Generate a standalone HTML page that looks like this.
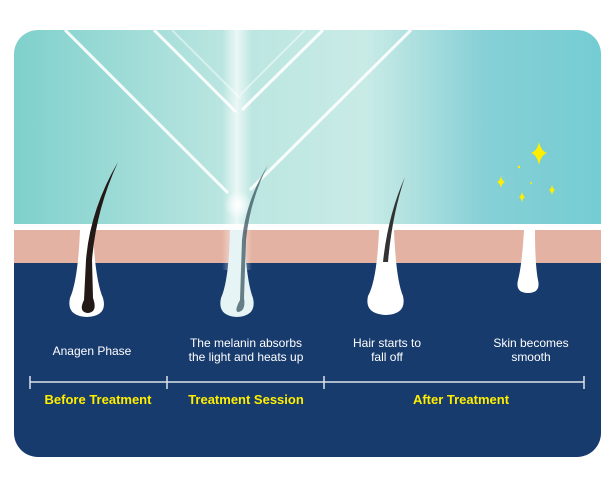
<!DOCTYPE html>
<html><head><style>
html,body{margin:0;padding:0;background:#fff;}
svg{display:block;}
</style></head><body>
<svg width="615" height="487" viewBox="0 0 615 487" xmlns="http://www.w3.org/2000/svg">
<defs>
<clipPath id="card"><rect x="14" y="30" width="587" height="427" rx="24"/></clipPath>
<linearGradient id="sky" x1="0" y1="0" x2="1" y2="0">
<stop offset="0" stop-color="#7fd0cc"/><stop offset="0.35" stop-color="#b9e5e0"/>
<stop offset="0.6" stop-color="#c9ebe6"/><stop offset="0.8" stop-color="#86d0d6"/><stop offset="1" stop-color="#74cdd3"/>
</linearGradient>
<linearGradient id="beam" x1="0" y1="0" x2="1" y2="0">
<stop offset="0" stop-color="#fff" stop-opacity="0"/><stop offset="0.5" stop-color="#fff" stop-opacity="0.7"/><stop offset="1" stop-color="#fff" stop-opacity="0"/>
</linearGradient>
<radialGradient id="glow"><stop offset="0" stop-color="#fff"/><stop offset="1" stop-color="#fff" stop-opacity="0"/></radialGradient>
</defs>
<g clip-path="url(#card)">
<rect x="14" y="30" width="587" height="200" fill="url(#sky)"/>
<rect x="14" y="224" width="587" height="6" fill="#fff"/>
<rect x="14" y="230" width="587" height="34" fill="#e4b2a2"/>
<rect x="14" y="263" width="587" height="200" fill="#183b6e"/>
<g stroke="#fff" stroke-width="3" opacity="0.9" fill="none">
<line x1="65" y1="30" x2="228" y2="193"/>
<line x1="154" y1="30" x2="236" y2="112"/>
<line x1="172" y1="30" x2="240" y2="98" stroke-width="2" opacity="0.5"/>
<line x1="411" y1="30" x2="250" y2="190"/>
<line x1="323" y1="30" x2="242" y2="110"/>
<line x1="305" y1="30" x2="240" y2="95" stroke-width="2" opacity="0.5"/>
</g>
<rect x="222" y="30" width="30" height="240" fill="url(#beam)"/>
<circle cx="238" cy="205" r="14" fill="url(#glow)"/>
<path d="M80 230 L93 230 Q95 280 103 298 Q108 316 87 317 Q66 316 70 298 Q78 280 80 230Z" fill="#fff"/>
<path d="M230 230 L244 230 Q246 280 253 298 Q257 316 237 317 Q217 316 221 298 Q229 280 230 230Z" fill="#e6f4f6"/>
<path d="M379 230 L394 230 Q396 280 403 296 Q407 314 386 315 Q364 314 368 296 Q377 280 379 230Z" fill="#fff"/>
<path d="M524 230 L535 230 Q535 265 538 280 Q541 293 528 293 Q515 293 518 280 Q522 265 524 230Z" fill="#fff"/>
<path d="M118 162 Q90 210 86 260 L84 300 Q78 312 88 313 Q98 312 93 298 L92 260 Q96 210 118 162Z" fill="#231a18"/>
<path d="M268 165 Q246 200 242 240 L240 300 Q234 311 238 312 Q246 311 244 298 L246 240 Q250 200 268 165Z" fill="#2d4a56" opacity="0.7"/>
<path d="M405 177 Q388 215 383 262 L388 262 Q392 215 405 177Z" fill="#333"/>
<g fill="#ffee00">
<path d="M539 142 Q541 151 547 153 Q541 155 539 165 Q537 155 531 153 Q537 151 539 142Z"/>
<path d="M501 176 Q502 181 505 182 Q502 183 501 188 Q500 183 497 182 Q500 181 501 176Z"/>
<path d="M552 185 Q553 189 555 190 Q553 191 552 195 Q551 191 549 190 Q551 189 552 185Z"/>
<path d="M522 192 Q523 196 525 197 Q523 198 522 202 Q521 198 519 197 Q521 196 522 192Z"/>
<circle cx="519" cy="167" r="1.2"/><circle cx="531" cy="183" r="1"/>
</g>
</g>
<g font-family="Liberation Sans, sans-serif" font-size="12" fill="#fff" text-anchor="middle">
<text x="92" y="355">Anagen Phase</text>
<text x="246" y="347">The melanin absorbs</text>
<text x="246" y="361">the light and heats up</text>
<text x="387" y="347">Hair starts to</text>
<text x="387" y="361">fall off</text>
<text x="531" y="347">Skin becomes</text>
<text x="531" y="361">smooth</text>
</g>
<g stroke="#dde3ea" stroke-width="1.5">
<line x1="30" y1="382" x2="584" y2="382"/>
<line x1="30" y1="376" x2="30" y2="389"/>
<line x1="167" y1="376" x2="167" y2="389"/>
<line x1="324" y1="376" x2="324" y2="389"/>
<line x1="584" y1="376" x2="584" y2="389"/>
</g>
<g font-family="Liberation Sans, sans-serif" font-size="13" font-weight="bold" fill="#ffee00" text-anchor="middle">
<text x="98" y="404">Before Treatment</text>
<text x="246" y="404">Treatment Session</text>
<text x="461" y="404">After Treatment</text>
</g>
</svg>
</body></html>
